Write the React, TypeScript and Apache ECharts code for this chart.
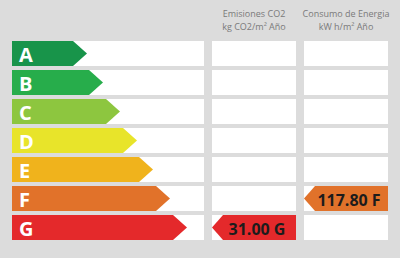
import React, { useEffect, useRef } from "react";
import * as echarts from "echarts";

// ---- data ----
const categories = ["A", "B", "C", "D", "E", "F", "G"];
const classLengths = [75, 91, 108, 125, 141, 158, 175];
const classColors = ["#18944a", "#27ad4b", "#8dc63f", "#e8e42a", "#f0b31c", "#e1722a", "#e4292b"];
const emissionsHeader = ["Emisiones CO2", "kg CO2/m² Año"];
const energyHeader = ["Consumo de Energia", "kW h/m² Año"];
const emissionValues = [31.0];
const emissionRatings = ["G"];
const energyValues = [117.8];
const energyRatings = ["F"];

// layout (x axis units)
const COL1: [number, number] = [0, 192];
const COL2: [number, number] = [200, 284];
const COL3: [number, number] = [292, 376];
const FONT = "'Open Sans', 'DejaVu Sans', sans-serif";

function valueArrowRenderer(col: [number, number], color: string) {
  return (params: any, api: any) => {
    const idx = api.value(1);
    const val = api.value(0);
    const rating = categories[idx];
    const [xl, yc] = api.coord([col[0], idx]);
    const [xr] = api.coord([col[1], idx]);
    const h = api.size([0, 1])[1] * 0.86;
    const depth = 11;
    const top = yc - h / 2;
    const bot = yc + h / 2;
    return {
      type: "group",
      children: [
        {
          type: "polygon",
          shape: {
            points: [
              [xl, yc],
              [xl + depth, top],
              [xr, top],
              [xr, bot],
              [xl + depth, bot],
            ],
          },
          style: { fill: color },
        },
        {
          type: "text",
          style: {
            text: Number(val).toFixed(2) + " " + rating,
            x: (xl + xr) / 2 + 3,
            y: yc + 1,
            align: "center",
            verticalAlign: "middle",
            fill: "#1c1c1c",
            fontSize: 16,
            fontWeight: "bold",
            fontFamily: FONT,
          },
        },
      ],
    };
  };
}

export default function App() {
  const ref = useRef<HTMLDivElement>(null);
  useEffect(() => {
    if (!ref.current) return;
    const chart = echarts.init(ref.current, undefined, { renderer: "svg" });
    const headerStyle = {
      align: "center",
      verticalAlign: "middle",
      fill: "#7a7a7a",
      fontSize: 9,
      fontFamily: FONT,
    };
    const headerText = (x: number, y: number, text: string) => ({
      type: "text",
      x,
      y,
      style: { ...headerStyle, text },
    });
    const option: any = {
      animation: false,
      backgroundColor: "#dcdcdc",
      grid: { left: 12, right: 12, top: 39, bottom: 16 },
      xAxis: { type: "value", min: 0, max: 376, show: false },
      yAxis: { type: "category", data: categories, inverse: true, show: false },
      graphic: [
        headerText(254, 13.5, emissionsHeader[0]),
        headerText(254, 26.5, emissionsHeader[1]),
        headerText(346, 13.5, energyHeader[0]),
        headerText(346, 26.5, energyHeader[1]),
      ],
      series: [
        {
          type: "custom",
          z: 1,
          encode: { x: 0, y: 1 },
          data: categories.map((_, i) => [0, i]),
          renderItem: (params: any, api: any) => {
            const idx = api.value(1);
            const h = api.size([0, 1])[1] * 0.86;
            const children = [COL1, COL2, COL3].map((c) => {
              const [x0, yc] = api.coord([c[0], idx]);
              const [x1] = api.coord([c[1], idx]);
              return {
                type: "rect",
                shape: { x: x0, y: yc - h / 2, width: x1 - x0, height: h },
                style: { fill: "#ffffff" },
              };
            });
            return { type: "group", children };
          },
        },
        {
          type: "custom",
          z: 2,
          encode: { x: 0, y: 1 },
          data: categories.map((_, i) => [classLengths[i], i]),
          renderItem: (params: any, api: any) => {
            const idx = api.value(1);
            const len = api.value(0);
            const [x0, yc] = api.coord([0, idx]);
            const [xt] = api.coord([len, idx]);
            const h = api.size([0, 1])[1] * 0.86;
            const depth = 14;
            const top = yc - h / 2;
            const bot = yc + h / 2;
            return {
              type: "group",
              children: [
                {
                  type: "polygon",
                  shape: {
                    points: [
                      [x0, top],
                      [xt - depth, top],
                      [xt, yc],
                      [xt - depth, bot],
                      [x0, bot],
                    ],
                  },
                  style: { fill: classColors[idx] },
                },
                {
                  type: "text",
                  style: {
                    text: categories[idx],
                    x: x0 + 7,
                    y: yc + 1,
                    align: "left",
                    verticalAlign: "middle",
                    fill: "#ffffff",
                    fontSize: 20,
                    fontWeight: "bold",
                    fontFamily: FONT,
                  },
                },
              ],
            };
          },
        },
        {
          type: "custom",
          z: 3,
          encode: { x: 0, y: 1 },
          data: emissionValues.map((v, i) => [v, categories.indexOf(emissionRatings[i])]),
          renderItem: valueArrowRenderer(COL2, "#e4292b"),
        },
        {
          type: "custom",
          z: 3,
          encode: { x: 0, y: 1 },
          data: energyValues.map((v, i) => [v, categories.indexOf(energyRatings[i])]),
          renderItem: valueArrowRenderer(COL3, "#e1722a"),
        },
      ],
    };
    chart.setOption(option);
    return () => chart.dispose();
  }, []);
  return (
    <div
      ref={ref}
      style={{ position: "fixed", left: 0, top: 0, width: 400, height: 258 }}
    />
  );
}
